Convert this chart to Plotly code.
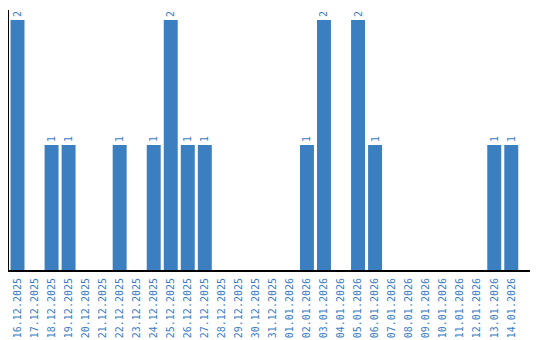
import plotly.graph_objects as go

dates = ["16.12.2025","17.12.2025","18.12.2025","19.12.2025","20.12.2025","21.12.2025",
         "22.12.2025","23.12.2025","24.12.2025","25.12.2025","26.12.2025","27.12.2025",
         "28.12.2025","29.12.2025","30.12.2025","31.12.2025","01.01.2026","02.01.2026",
         "03.01.2026","04.01.2026","05.01.2026","06.01.2026","07.01.2026","08.01.2026",
         "09.01.2026","10.01.2026","11.01.2026","12.01.2026","13.01.2026","14.01.2026"]
counts = [2,0,1,1,0,0,1,0,1,2,1,1,0,0,0,0,0,1,2,0,2,1,0,0,0,0,0,0,1,1]

blue = "#3c7fc1"
text_blue = "#3a7cc4"
labels = [str(v) if v else "" for v in counts]

fig = go.Figure(go.Bar(
    x=list(range(len(dates))), y=counts,
    marker=dict(color=blue, line=dict(width=0)),
    text=labels, textposition="outside", textangle=-90,
    textfont=dict(family="DejaVu Sans Mono", size=10, color=text_blue),
    cliponaxis=False,
))
fig.update_layout(
    width=540, height=340,
    margin=dict(l=9, r=10, t=10, b=70, autoexpand=False),
    plot_bgcolor="white", paper_bgcolor="white",
    bargap=0.18, showlegend=False,
    xaxis=dict(tickmode="array", tickvals=list(range(len(dates))), ticktext=dates,
               tickangle=-90, range=[-0.5, 30.1], showgrid=False, zeroline=False,
               showline=True, linecolor="black", linewidth=2,
               ticks="outside", ticklen=2, tickcolor="rgba(0,0,0,0)",
               automargin=False,
               tickfont=dict(family="DejaVu Sans Mono", size=10, color=text_blue)),
    yaxis=dict(range=[0, 2.08], showgrid=False, zeroline=False, showticklabels=False,
               showline=True, linecolor="black", linewidth=1, ticks="", automargin=False),
)
fig.write_html("out.html")
